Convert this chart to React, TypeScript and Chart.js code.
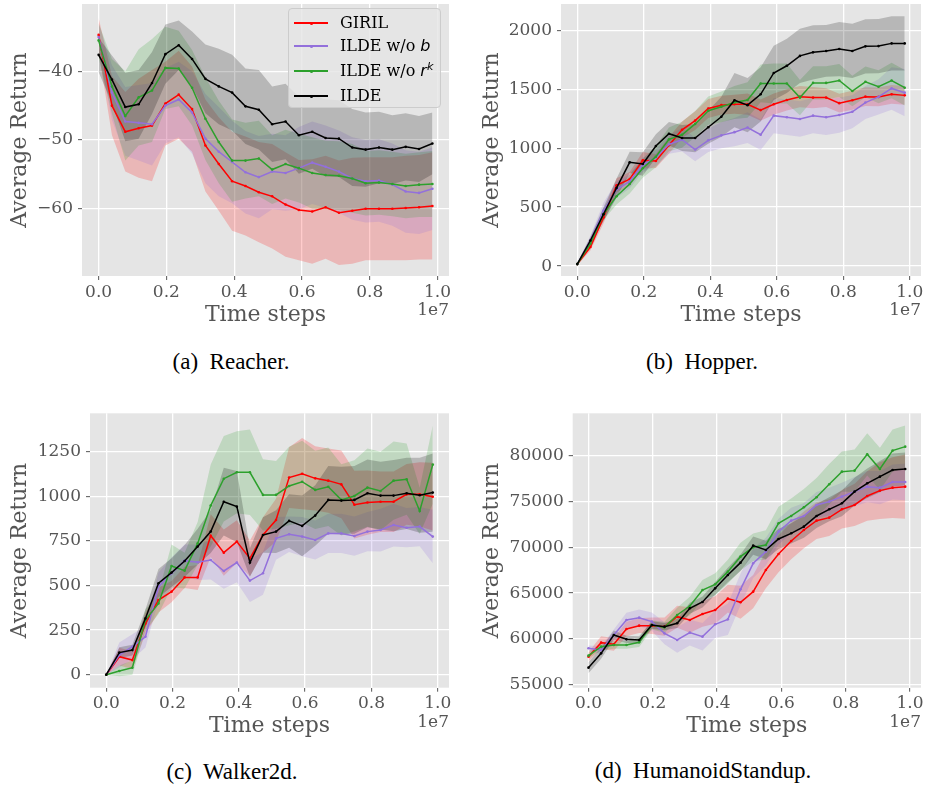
import React, { useEffect, useRef } from 'react';
import { Chart, registerables } from 'chart.js';

Chart.register(...registerables);

// ---------- shared axis data (time steps, in units of 1e7) ----------
const STEPS = [0, 0.0394, 0.0788, 0.1182, 0.1576, 0.197, 0.2364, 0.2758, 0.3152, 0.3546, 0.394, 0.4334, 0.4728, 0.5122, 0.5516, 0.591, 0.6304, 0.6698, 0.7092, 0.7486, 0.788, 0.8274, 0.8668, 0.9062, 0.9456, 0.985];
const X_TICKS = [0, 0.2, 0.4, 0.6, 0.8, 1.0];

const SERIES_NAMES = ['GIRIL', 'ILDE w/o b', 'ILDE w/o r^k', 'ILDE'];
const SERIES_COLORS = ['#ff0000', '#9370db', '#2ca02c', '#000000'];
const SERIES_FILLS = ['rgba(255,0,0,0.2)', 'rgba(147,112,219,0.2)', 'rgba(44,160,44,0.2)', 'rgba(0,0,0,0.2)'];

// ---------- (a) Reacher ----------
const REACHER_Y_TICKS = [-60, -50, -40];
const REACHER_GIRIL = [-34.7, -45.0, -48.8, -48.3, -47.9, -44.7, -43.4, -45.5, -50.8, -53.5, -56.0, -56.7, -57.6, -58.2, -59.4, -60.2, -60.4, -59.8, -60.6, -60.3, -60.0, -60.0, -60.0, -59.9, -59.8, -59.6];
const REACHER_GIRIL_STD = [2.5, 4.3, 5.8, 7.2, 8.1, 6.1, 6.4, 6.2, 6.7, 6.8, 7.2, 7.2, 7.3, 7.6, 7.6, 7.3, 7.6, 7.5, 7.6, 7.7, 7.5, 7.5, 7.5, 7.6, 7.6, 7.8];
const REACHER_NO_B = [-35.0, -43.1, -47.3, -47.5, -47.7, -45.0, -44.1, -46.0, -49.8, -51.7, -53.2, -54.7, -55.4, -54.6, -54.8, -54.1, -53.3, -53.9, -54.6, -55.6, -56.0, -55.9, -56.5, -57.5, -57.7, -57.1];
const REACHER_NO_B_STD = [2.0, 4.0, 5.0, 5.5, 6.0, 5.5, 5.5, 6.0, 6.5, 6.5, 6.0, 6.0, 6.0, 5.5, 5.5, 6.0, 6.0, 6.0, 6.0, 6.0, 6.0, 6.0, 6.0, 6.0, 6.0, 6.0];
const REACHER_NO_RK = [-35.5, -42.2, -46.5, -43.8, -42.8, -39.5, -39.6, -42.4, -46.9, -50.3, -53.0, -53.0, -52.7, -54.3, -53.5, -54.1, -54.8, -55.1, -55.2, -55.6, -56.3, -56.2, -56.4, -56.7, -56.5, -56.4];
const REACHER_NO_RK_STD = [2.5, 4.0, 6.5, 7.0, 7.5, 6.0, 5.5, 5.5, 6.0, 6.0, 6.0, 5.5, 5.5, 5.0, 5.0, 5.0, 5.2, 5.0, 5.0, 5.0, 4.7, 4.7, 4.7, 4.7, 4.7, 4.8];
const REACHER_ILDE = [-37.6, -41.2, -45.2, -44.8, -41.7, -37.5, -36.2, -38.2, -41.1, -42.2, -43.1, -45.1, -45.6, -47.7, -47.3, -49.3, -48.8, -49.7, -49.8, -51.1, -51.4, -51.1, -51.4, -51.0, -51.3, -50.5];
const REACHER_ILDE_STD = [2.5, 3.5, 5.0, 5.0, 4.5, 4.3, 3.6, 4.0, 5.0, 5.5, 5.5, 5.5, 5.8, 5.5, 5.5, 5.6, 5.4, 5.6, 5.6, 5.6, 5.4, 5.2, 5.0, 4.9, 4.8, 4.5];

// ---------- (b) Hopper ----------
const HOPPER_Y_TICKS = [0, 500, 1000, 1500, 2000];
const HOPPER_GIRIL = [17, 162, 412, 685, 738, 897, 891, 1025, 1156, 1234, 1337, 1365, 1373, 1373, 1323, 1373, 1409, 1437, 1429, 1429, 1382, 1407, 1437, 1435, 1457, 1448];
const HOPPER_GIRIL_STD = [10, 30, 50, 60, 60, 70, 60, 70, 70, 80, 80, 80, 80, 90, 90, 90, 90, 90, 90, 80, 80, 80, 80, 80, 80, 80];
const HOPPER_NO_B = [17, 217, 468, 649, 719, 858, 919, 1033, 1072, 989, 1067, 1109, 1136, 1175, 1114, 1276, 1262, 1248, 1276, 1262, 1281, 1309, 1387, 1435, 1507, 1471];
const HOPPER_NO_B_STD = [10, 40, 70, 70, 60, 60, 70, 80, 100, 100, 100, 110, 120, 130, 130, 150, 150, 150, 150, 150, 150, 140, 140, 150, 180, 200];
const HOPPER_NO_RK = [17, 190, 440, 593, 696, 830, 928, 1075, 1114, 1206, 1318, 1351, 1387, 1409, 1549, 1549, 1549, 1429, 1554, 1554, 1574, 1485, 1563, 1521, 1574, 1513];
const HOPPER_NO_RK_STD = [10, 30, 50, 70, 80, 80, 90, 100, 110, 110, 120, 130, 140, 150, 160, 170, 170, 150, 140, 140, 140, 130, 130, 140, 150, 150];
const HOPPER_ILDE = [17, 217, 440, 663, 880, 866, 1019, 1123, 1086, 1086, 1178, 1267, 1407, 1365, 1457, 1638, 1699, 1783, 1813, 1825, 1841, 1825, 1864, 1866, 1889, 1889];
const HOPPER_ILDE_STD = [10, 30, 60, 80, 90, 100, 100, 100, 110, 120, 140, 170, 230, 230, 230, 230, 230, 230, 230, 220, 230, 230, 230, 230, 230, 230];

// ---------- (c) Walker2d ----------
const WALKER_Y_TICKS = [0, 250, 500, 750, 1000, 1250];
const WALKER_GIRIL = [0, 101, 82, 288, 419, 466, 546, 546, 780, 685, 747, 653, 784, 868, 1106, 1128, 1102, 1089, 1068, 954, 966, 971, 971, 1012, 1012, 999];
const WALKER_GIRIL_STD = [0, 50, 50, 60, 70, 60, 60, 70, 120, 130, 120, 100, 100, 120, 170, 200, 180, 180, 190, 190, 180, 170, 170, 170, 180, 190];
const WALKER_NO_B = [0, 110, 157, 213, 494, 569, 640, 631, 644, 582, 629, 528, 569, 765, 788, 775, 756, 793, 793, 778, 803, 812, 840, 825, 831, 775];
const WALKER_NO_B_STD = [0, 70, 70, 60, 80, 90, 90, 100, 110, 100, 110, 120, 120, 120, 100, 110, 110, 110, 110, 110, 110, 120, 120, 110, 110, 150];
const WALKER_NO_RK = [0, 21, 39, 307, 400, 610, 584, 737, 949, 1100, 1136, 1136, 1009, 1009, 1059, 1083, 1037, 1055, 981, 1003, 1050, 1031, 1089, 1097, 919, 1179];
const WALKER_NO_RK_STD = [0, 30, 40, 60, 60, 120, 100, 120, 230, 240, 230, 240, 200, 190, 220, 230, 220, 220, 200, 200, 220, 220, 220, 200, 130, 220];
const WALKER_ILDE = [0, 124, 138, 316, 513, 573, 638, 719, 803, 971, 943, 629, 784, 803, 863, 835, 893, 981, 977, 981, 1018, 1005, 1005, 1018, 1007, 1022];
const WALKER_ILDE_STD = [0, 30, 30, 50, 80, 80, 90, 100, 120, 190, 200, 80, 100, 120, 150, 170, 170, 190, 190, 190, 190, 190, 200, 200, 210, 220];

// ---------- (d) HumanoidStandup ----------
const HUMANOID_Y_TICKS = [55000, 60000, 65000, 70000, 75000, 80000];
const HUMANOID_GIRIL = [58084, 59608, 59427, 61096, 61459, 61459, 61350, 62438, 62075, 62728, 63164, 64398, 63999, 65160, 67518, 69260, 70675, 71872, 72888, 73215, 74122, 74594, 75573, 76154, 76480, 76589];
const HUMANOID_GIRIL_STD = [500, 700, 700, 800, 800, 900, 1000, 1200, 1400, 1400, 1500, 1500, 1800, 1800, 2000, 2000, 2000, 2000, 2000, 2000, 2100, 2300, 2700, 3100, 3300, 3500];
const HUMANOID_NO_B = [58992, 58810, 60443, 62075, 62329, 61894, 60624, 59898, 60697, 60261, 61604, 62148, 65413, 68244, 69514, 71691, 72888, 73396, 74594, 74956, 75500, 76045, 76589, 76480, 77097, 77097];
const HUMANOID_NO_B_STD = [300, 400, 600, 800, 900, 1000, 1200, 1400, 1400, 1500, 1500, 1700, 1700, 1600, 1500, 1400, 1400, 1400, 1400, 1500, 1500, 1600, 1700, 1800, 1900, 2000];
const HUMANOID_NO_RK = [58193, 59173, 59355, 59355, 59644, 61531, 61277, 62620, 63599, 65341, 65958, 67337, 68970, 69985, 70240, 72598, 73396, 74340, 75428, 76843, 78222, 78331, 80109, 78512, 80508, 80943];
const HUMANOID_NO_RK_STD = [300, 400, 400, 400, 500, 500, 600, 800, 1000, 1100, 1200, 1300, 1500, 1500, 1600, 1800, 1900, 2000, 2100, 2200, 2200, 2300, 2300, 2300, 2300, 2300];
const HUMANOID_ILDE = [56887, 58447, 60443, 59971, 59898, 61531, 61350, 61713, 63345, 64035, 65522, 66974, 68316, 70167, 69695, 70893, 71510, 72235, 73396, 74122, 74775, 76045, 76952, 77678, 78404, 78512];
const HUMANOID_ILDE_STD = [600, 600, 500, 400, 400, 400, 400, 500, 600, 600, 700, 800, 900, 1000, 1000, 1100, 1100, 1200, 1300, 1300, 1400, 1500, 1600, 1700, 1800, 1800];

// ---------- styling ----------
const SERIF = "'DejaVu Serif', serif";
const TEXT_GRAY = '#555555';
const TICK_SIZE = 17;
const LABEL_SIZE = 22;

type PanelCfg = {
  key: string;
  left: number; top: number; width: number; height: number;
  plot: { left: number; top: number; right: number; bottom: number };
  xMin: number; xMax: number; yMin: number; yMax: number;
  yTicks: number[];
  yTitlePad: number; xTitlePad: number;
  means: number[][]; stds: number[][];
  caption: string; captionX: number; captionY: number;
};

const PANELS: PanelCfg[] = [
  {
    key: 'a', left: 0, top: 0, width: 460, height: 340,
    plot: { left: 82, top: 0, right: 449, bottom: 276 },
    xMin: -0.049, xMax: 1.034, yMin: -69.8, yMax: -30.2, yTicks: REACHER_Y_TICKS,
    yTitlePad: 6.8, xTitlePad: 12,
    means: [REACHER_GIRIL, REACHER_NO_B, REACHER_NO_RK, REACHER_ILDE],
    stds: [REACHER_GIRIL_STD, REACHER_NO_B_STD, REACHER_NO_RK_STD, REACHER_ILDE_STD],
    caption: '(a) Reacher.', captionX: 231, captionY: 362,
  },
  {
    key: 'b', left: 460, top: 0, width: 465, height: 340,
    plot: { left: 101, top: 0, right: 461, bottom: 276 },
    xMin: -0.049, xMax: 1.034, yMin: -84, yMax: 2223, yTicks: HOPPER_Y_TICKS,
    yTitlePad: 18.8, xTitlePad: 12,
    means: [HOPPER_GIRIL, HOPPER_NO_B, HOPPER_NO_RK, HOPPER_ILDE],
    stds: [HOPPER_GIRIL_STD, HOPPER_NO_B_STD, HOPPER_NO_RK_STD, HOPPER_ILDE_STD],
    caption: '(b) Hopper.', captionX: 702, captionY: 362,
  },
  {
    key: 'c', left: 0, top: 390, width: 460, height: 350,
    plot: { left: 90, top: 23.3, right: 449, bottom: 297.7 },
    xMin: -0.049, xMax: 1.034, yMin: -73, yMax: 1467, yTicks: WALKER_Y_TICKS,
    yTitlePad: 6.8, xTitlePad: 0.5,
    means: [WALKER_GIRIL, WALKER_NO_B, WALKER_NO_RK, WALKER_ILDE],
    stds: [WALKER_GIRIL_STD, WALKER_NO_B_STD, WALKER_NO_RK_STD, WALKER_ILDE_STD],
    caption: '(c) Walker2d.', captionX: 232, captionY: 772,
  },
  {
    key: 'd', left: 460, top: 390, width: 465, height: 350,
    plot: { left: 112.7, top: 23.3, right: 461, bottom: 297.7 },
    xMin: -0.049, xMax: 1.034, yMin: 54706, yMax: 84572, yTicks: HUMANOID_Y_TICKS,
    yTitlePad: 18.8, xTitlePad: 0.5,
    means: [HUMANOID_GIRIL, HUMANOID_NO_B, HUMANOID_NO_RK, HUMANOID_ILDE],
    stds: [HUMANOID_GIRIL_STD, HUMANOID_NO_B_STD, HUMANOID_NO_RK_STD, HUMANOID_ILDE_STD],
    caption: '(d) HumanoidStandup.', captionX: 703, captionY: 771,
  },
];

const bgPlugin = {
  id: 'axesBg',
  beforeDraw(chart: any) {
    const { ctx, chartArea: a } = chart;
    ctx.save();
    ctx.fillStyle = '#e5e5e5';
    ctx.fillRect(a.left, a.top, a.right - a.left, a.bottom - a.top);
    ctx.restore();
  },
};

const offsetTextPlugin = {
  id: 'offsetText',
  afterDraw(chart: any) {
    const { ctx, chartArea: a } = chart;
    ctx.save();
    ctx.font = `${TICK_SIZE}px ${SERIF}`;
    ctx.fillStyle = TEXT_GRAY;
    ctx.textAlign = 'right';
    ctx.textBaseline = 'middle';
    ctx.fillText('1e7', a.right, a.bottom + 35);
    ctx.restore();
  },
};

function fmtY(v: number) {
  return v < 0 ? '\u2212' + String(Math.abs(v)) : String(v);
}

function Panel({ cfg }: { cfg: PanelCfg }) {
  const ref = useRef<HTMLCanvasElement | null>(null);
  useEffect(() => {
    if (!ref.current) return;
    const datasets: any[] = [];
    // draw ILDE last (on top): put it first in the array
    [3, 2, 1, 0].forEach((si) => {
      const mean = cfg.means[si];
      const std = cfg.stds[si];
      const base = datasets.length;
      datasets.push({
        label: SERIES_NAMES[si] + ' low',
        data: STEPS.map((x, i) => ({ x, y: mean[i] - std[i] })),
        borderColor: 'rgba(0,0,0,0)', borderWidth: 0, pointRadius: 0, fill: false,
      });
      datasets.push({
        label: SERIES_NAMES[si] + ' high',
        data: STEPS.map((x, i) => ({ x, y: mean[i] + std[i] })),
        borderColor: 'rgba(0,0,0,0)', borderWidth: 0, pointRadius: 0,
        fill: base, backgroundColor: SERIES_FILLS[si],
      });
      datasets.push({
        label: SERIES_NAMES[si],
        data: STEPS.map((x, i) => ({ x, y: mean[i] })),
        borderColor: SERIES_COLORS[si], borderWidth: 1.5,
        pointRadius: 1.3, pointBackgroundColor: SERIES_COLORS[si], pointBorderWidth: 0,
        fill: false, tension: 0,
      });
    });

    const p = cfg.plot;
    const chart = new Chart(ref.current, {
      type: 'line',
      data: { datasets },
      plugins: [bgPlugin, offsetTextPlugin],
      options: {
        animation: false,
        responsive: false,
        maintainAspectRatio: false,
        devicePixelRatio: 1,
        events: [],
        layout: { padding: { top: p.top, right: cfg.width - p.right, bottom: 0, left: 0 } },
        plugins: {
          legend: { display: false },
          tooltip: { enabled: false },
          filler: { drawTime: 'beforeDatasetsDraw', propagate: false },
        },
        scales: {
          x: {
            type: 'linear',
            min: cfg.xMin, max: cfg.xMax,
            afterBuildTicks: (s: any) => { s.ticks = X_TICKS.map((v) => ({ value: v })); },
            afterFit: (s: any) => {
              s.height = cfg.height - p.bottom;
              s.paddingLeft = 0; s.paddingRight = 0; s.paddingTop = 0; s.paddingBottom = 0;
            },
            border: { display: false },
            grid: { color: '#ffffff', lineWidth: 1.3, drawTicks: true, tickLength: 4, tickColor: TEXT_GRAY, tickWidth: 1 },
            ticks: {
              autoSkip: false, maxRotation: 0, minRotation: 0, padding: 2,
              color: TEXT_GRAY, font: { family: SERIF, size: TICK_SIZE },
              callback: (v: any) => Number(v).toFixed(1),
            },
            title: {
              display: true, text: 'Time steps', color: TEXT_GRAY,
              font: { family: SERIF, size: LABEL_SIZE },
              padding: { top: 0, bottom: cfg.xTitlePad },
            },
          },
          y: {
            type: 'linear',
            min: cfg.yMin, max: cfg.yMax,
            afterBuildTicks: (s: any) => { s.ticks = cfg.yTicks.map((v) => ({ value: v })); },
            afterFit: (s: any) => {
              s.width = p.left;
              s.paddingLeft = 0; s.paddingRight = 0; s.paddingTop = 0; s.paddingBottom = 0;
            },
            border: { display: false },
            grid: { color: '#ffffff', lineWidth: 1.3, drawTicks: true, tickLength: 4, tickColor: TEXT_GRAY, tickWidth: 1 },
            ticks: {
              autoSkip: false, padding: 5,
              color: TEXT_GRAY, font: { family: SERIF, size: TICK_SIZE },
              callback: (v: any) => fmtY(Number(v)),
            },
            title: {
              display: true, text: 'Average Return', color: TEXT_GRAY,
              font: { family: SERIF, size: LABEL_SIZE },
              padding: { top: cfg.yTitlePad, bottom: 0 },
            },
          },
        },
      } as any,
    });
    return () => chart.destroy();
  }, [cfg]);

  return (
    <canvas
      ref={ref}
      width={cfg.width}
      height={cfg.height}
      style={{ position: 'absolute', left: cfg.left, top: cfg.top, width: cfg.width, height: cfg.height }}
    />
  );
}

const LEGEND_ROWS = [0, 1, 2, 3];

function LegendLabel({ idx }: { idx: number }) {
  const mathFont = "'DejaVu Sans', sans-serif";
  if (idx === 1) return <span>ILDE w/o <i style={{ fontFamily: mathFont }}>b</i></span>;
  if (idx === 2)
    return (
      <span>
        ILDE w/o <i style={{ fontFamily: mathFont }}>r</i>
        <sup style={{ fontFamily: mathFont, fontStyle: 'italic', fontSize: '0.7em', verticalAlign: '0.55em', lineHeight: 0 }}>k</sup>
      </span>
    );
  return <span>{SERIES_NAMES[idx]}</span>;
}

function Legend() {
  const rowY = [14, 37, 62, 87];
  return (
    <div
      style={{
        position: 'absolute', left: 288, top: 8, width: 153, height: 100,
        background: 'rgba(229,229,229,0.8)', border: '1px solid #cccccc', borderRadius: 4,
        boxSizing: 'border-box',
      }}
    >
      {LEGEND_ROWS.map((i) => (
        <div key={i} style={{ position: 'absolute', left: 0, top: rowY[i] - 12, height: 24, width: '100%' }}>
          <div style={{ position: 'absolute', left: 5, top: 11.25, width: 34, height: 1.5, background: SERIES_COLORS[i] }} />
          <div style={{ position: 'absolute', left: 20.5, top: 10.5, width: 3, height: 3, borderRadius: 2, background: SERIES_COLORS[i] }} />
          <div
            style={{
              position: 'absolute', left: 51, top: 0, height: 24, lineHeight: '24px',
              fontFamily: SERIF, fontSize: 16, color: '#000', whiteSpace: 'nowrap',
            }}
          >
            <LegendLabel idx={i} />
          </div>
        </div>
      ))}
    </div>
  );
}

export default function App() {
  return (
    <div style={{ position: 'absolute', left: 0, top: 0, width: 925, height: 788, background: '#ffffff', overflow: 'hidden' }}>
      {PANELS.map((cfg) => (
        <Panel key={cfg.key} cfg={cfg} />
      ))}
      <Legend />
      {PANELS.map((cfg) => (
        <div
          key={'cap' + cfg.key}
          style={{
            position: 'absolute', left: cfg.captionX - 160, top: cfg.captionY - 13, width: 320, height: 26,
            lineHeight: '26px', textAlign: 'center', fontFamily: "'Liberation Serif', 'Times New Roman', serif",
            fontSize: 23, color: '#000', wordSpacing: '0.25em', whiteSpace: 'nowrap',
          }}
        >
          {cfg.caption}
        </div>
      ))}
    </div>
  );
}
